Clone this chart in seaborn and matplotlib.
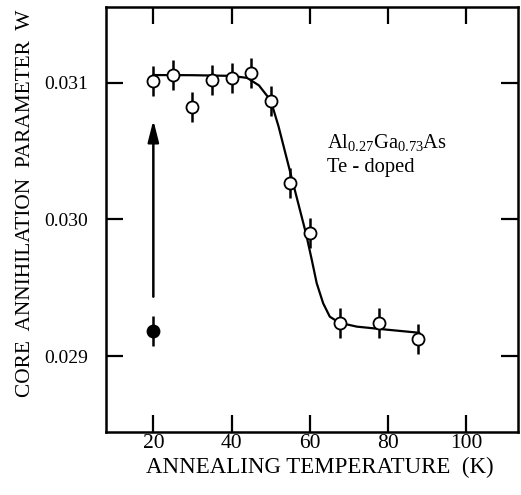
import matplotlib
matplotlib.use("Agg")
import matplotlib.pyplot as plt
import seaborn as sns
import pandas as pd

# Measured points (open circles)
temps = [20, 25, 30, 35, 40, 45, 50, 55, 60, 67.6, 77.7, 87.7]
w_vals = [0.031015, 0.031056, 0.030824, 0.031020, 0.031032, 0.031073,
          0.030866, 0.030263, 0.029902, 0.029244, 0.029244, 0.029122]
w_err = [0.00011] * len(temps)

# As-grown point (filled)
temp_filled = [20]
w_filled = [0.029185]
w_filled_err = [0.00011]

# Fitted curve
curve_t = [20, 30, 40, 44, 47, 50, 52, 55.3, 59.0, 60.5, 61.75, 63.4, 65.1,
           67.5, 72, 80, 88]
curve_w = [0.031056, 0.031055, 0.031050, 0.031035, 0.030980, 0.030870,
           0.030680, 0.030310, 0.029898, 0.029703, 0.029533, 0.029386,
           0.029288, 0.029244, 0.029215, 0.029192, 0.029170]

# Arrow (start -> end)
arrow_t = [20, 20]
arrow_w = [0.029434, 0.030726]

x_ticks = [20, 40, 60, 80, 100]
y_ticks = [0.029, 0.030, 0.031]
y_tick_labels = ["0.029", "0.030", "0.031"]

sns.set_style("ticks")
plt.rcParams['font.family'] = ['Liberation Serif', 'DejaVu Serif']
plt.rcParams['mathtext.fontset'] = 'custom'
plt.rcParams['mathtext.rm'] = 'Liberation Serif'
plt.rcParams['mathtext.it'] = 'Liberation Serif'
plt.rcParams['text.color'] = 'black'
plt.rcParams['axes.labelcolor'] = 'black'

fig = plt.figure(figsize=(5.21, 4.95), dpi=100)
ax = fig.add_axes([106/521, 1 - 432/495, (518 - 106)/521, (432 - 7)/495])

curve_df = pd.DataFrame({"T": curve_t, "W": curve_w})
sns.lineplot(data=curve_df, x="T", y="W", ax=ax, color="black", linewidth=1.6,
             sort=False, zorder=2)

# error bars
ax.errorbar(temps, w_vals, yerr=w_err, fmt="none", ecolor="black",
            elinewidth=1.8, capsize=0, zorder=3)
ax.errorbar(temp_filled, w_filled, yerr=w_filled_err, fmt="none",
            ecolor="black", elinewidth=1.8, capsize=0, zorder=3)

pts_df = pd.DataFrame({"T": temps, "W": w_vals})
sns.scatterplot(data=pts_df, x="T", y="W", ax=ax, s=75, marker="o",
                facecolor="white", edgecolor="black", linewidth=1.3, zorder=4)
filled_df = pd.DataFrame({"T": temp_filled, "W": w_filled})
sns.scatterplot(data=filled_df, x="T", y="W", ax=ax, s=75, marker="o",
                color="black", edgecolor="black", linewidth=1.3, zorder=4)

ax.annotate("", xy=(arrow_t[1], arrow_w[1]), xytext=(arrow_t[0], arrow_w[0]),
            arrowprops=dict(arrowstyle="-|>,head_length=1.3,head_width=0.33",
                            color="black", lw=1.8, shrinkA=0, shrinkB=0))

ax.text(64.3, 0.030522, r"Al$_{0.27}$Ga$_{0.73}$As", fontsize=14.8, ha="left",
        va="baseline", color="black")
ax.text(64.3, 0.030349, "Te - doped", fontsize=14.8, ha="left", va="baseline",
        color="black")

ax.set_xlim(7.9, 113.2)
ax.set_ylim(0.028444, 0.031554)
ax.set_xticks(x_ticks)
ax.set_xticklabels([str(t) for t in x_ticks])
ax.set_yticks(y_ticks)
ax.set_yticklabels(y_tick_labels)

ax.tick_params(direction="in", length=12, width=1.6,
               top=True, right=True, colors="black", labelcolor="black")
ax.tick_params(axis="y", labelsize=14, pad=13)
ax.tick_params(axis="x", labelsize=15.5, pad=1.5)
for s in ax.spines.values():
    s.set_linewidth(1.8)
    s.set_color("black")
    s.set_visible(True)

ax.set_xlabel("ANNEALING TEMPERATURE  (K)", fontsize=16.5, color="black")
ax.xaxis.set_label_coords((320 - 106) / 412, (432 - 457) / 425)
ax.set_ylabel("CORE  ANNIHILATION  PARAMETER  W", fontsize=15.4, color="black")
ax.yaxis.set_label_coords((35 - 106) / 412, (432 - 203) / 425)

fig.savefig("out.png", dpi=100)
